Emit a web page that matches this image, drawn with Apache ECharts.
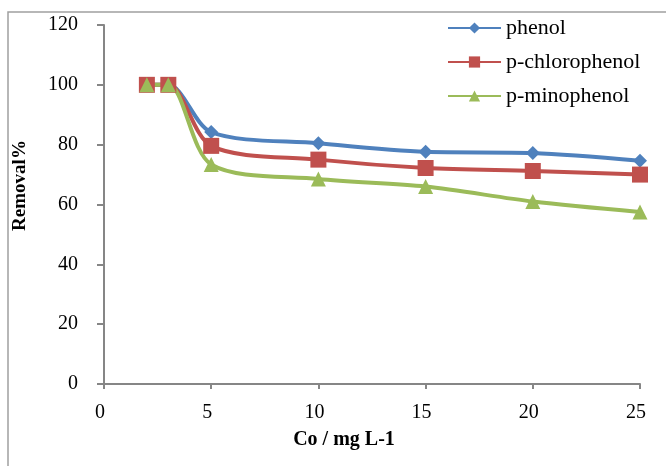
<!DOCTYPE html>
<html><head><meta charset="utf-8">
<script src="https://cdn.jsdelivr.net/npm/echarts@6/dist/echarts.min.js"></script>
<style>html,body{margin:0;padding:0;background:#fff}#c{width:666px;height:466px}</style>
</head><body><div id="c"></div>
<script>
const xValues = [2, 3, 5, 10, 15, 20, 25];
const phenol = [100, 100, 84.2, 80.5, 77.6, 77.2, 74.6];
const pChlorophenol = [100, 100, 79.6, 75, 72.2, 71.2, 70];
const pMinophenol = [100, 100, 73.4, 68.5, 66, 61, 57.5];
const seriesNames = ['phenol', 'p-chlorophenol', 'p-minophenol'];
const xTitle = 'Co / mg L-1';
const yTitle = 'Removal%';

const font = 'Liberation Serif';
const chart = echarts.init(document.getElementById('c'));
const pair = v => xValues.map((x, i) => [x, v[i]]);
const mk = (name, data, color, symbol, size) => ({
  name, type: 'line', data: pair(data), smooth: 0.3,
  symbol, symbolSize: size,
  lineStyle: { color, width: 4 },
  itemStyle: { color },
  emphasis: { disabled: true }
});
chart.setOption({
  animation: false,
  graphic: [
    { type: 'polyline', shape: { points: [[8, 466], [8, 12], [666, 12]] },
      style: { stroke: '#a0a0a0', lineWidth: 1.5, fill: null } }
  ],
  grid: { left: 104, right: 26, top: 25, bottom: 82 },
  legend: {
    orient: 'vertical', left: 442, top: 12, itemWidth: 53, itemHeight: 14, itemGap: 12,
    textStyle: { fontFamily: font, fontSize: 22, color: '#000' },
    data: seriesNames
  },
  xAxis: {
    type: 'value', min: 0, max: 25, interval: 5,
    name: xTitle, nameLocation: 'middle', nameGap: 46,
    nameTextStyle: { fontFamily: font, fontSize: 20, fontWeight: 'bold', color: '#000', padding: [0, 56, 0, 0] },
    axisLine: { show: true, lineStyle: { color: '#868686', width: 2 } },
    axisTick: { show: true, length: 5, inside: false, lineStyle: { color: '#868686', width: 2 } },
    axisLabel: { margin: 19, fontFamily: font, fontSize: 20, color: '#000', padding: [0, 8, 0, 0] },
    splitLine: { show: false }
  },
  yAxis: {
    type: 'value', min: 0, max: 120, interval: 20,
    name: yTitle, nameLocation: 'middle', nameGap: 74, nameRotate: 90,
    nameTextStyle: { fontFamily: font, fontSize: 19, fontWeight: 'bold', color: '#000', padding: [0, 0, 0, 38] },
    axisLine: { show: true, lineStyle: { color: '#868686', width: 2 } },
    axisTick: { show: true, length: 7, lineStyle: { color: '#868686', width: 2 } },
    axisLabel: { margin: 26, fontFamily: font, fontSize: 20, color: '#000' },
    splitLine: { show: false }
  },
  series: [
    mk(seriesNames[0], phenol, '#4F81BD', 'diamond', 14),
    mk(seriesNames[1], pChlorophenol, '#C0504D', 'rect', 16),
    mk(seriesNames[2], pMinophenol, '#9BBB59', 'triangle', 15)
  ]
});
</script></body></html>
